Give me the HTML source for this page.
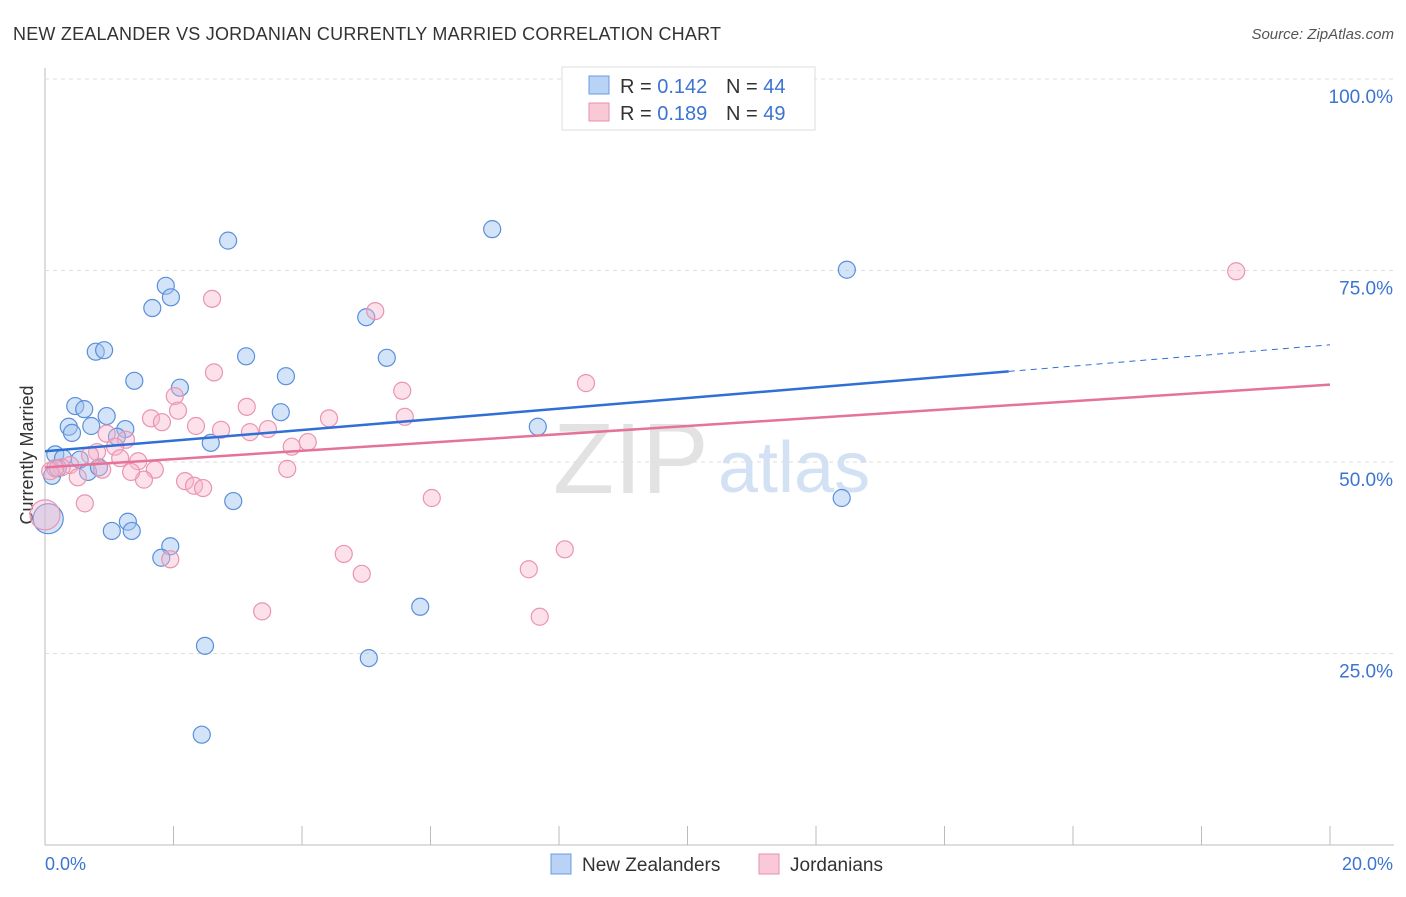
<!DOCTYPE html>
<html><head><meta charset="utf-8"><style>
body{margin:0;background:#fff;font-family:"Liberation Sans",sans-serif}
svg text{font-family:"Liberation Sans",sans-serif}
</style></head><body>
<svg id="c" width="1406" height="892">
<text x="13" y="40" font-size="18" fill="#333" textLength="708">NEW ZEALANDER VS JORDANIAN CURRENTLY MARRIED CORRELATION CHART</text>
<text x="1394" y="39" font-size="15" fill="#555" font-style="italic" text-anchor="end">Source: ZipAtlas.com</text>
<text x="553" y="493" font-size="100" fill="#e2e2e2" font-family="Liberation Serif">ZIP</text>
<text x="718" y="492" font-size="72" fill="#d3e1f4">atlas</text>
<text transform="translate(33,455) rotate(-90)" font-size="18" fill="#333" text-anchor="middle">Currently Married</text>
<g id="grid"></g><g id="ticks"></g><g id="pts"></g><g id="trend"></g>
<g>
<rect x="562" y="67" width="253" height="63" fill="#fff" stroke="#ddd"/>
<rect x="589" y="76" width="20" height="18" fill="#b8d3f5" stroke="#6a9be0"/>
<rect x="589" y="103" width="20" height="18" fill="#f9c9d8" stroke="#e890ae"/>
<text x="620" y="93" font-size="20" fill="#333">R = <tspan fill="#3b74d1">0.142</tspan></text>
<text x="726" y="93" font-size="20" fill="#333">N = <tspan fill="#3b74d1">44</tspan></text>
<text x="620" y="120" font-size="20" fill="#333">R = <tspan fill="#3b74d1">0.189</tspan></text>
<text x="726" y="120" font-size="20" fill="#333">N = <tspan fill="#3b74d1">49</tspan></text>
</g>
<g>
<rect x="551" y="854" width="20" height="20" fill="#b8d3f5" stroke="#6a9be0"/>
<text x="582" y="871" font-size="19" fill="#333">New Zealanders</text>
<rect x="759" y="854" width="20" height="20" fill="#f9c9d8" stroke="#e890ae"/>
<text x="790" y="871" font-size="19" fill="#333">Jordanians</text>
</g>
<text x="45" y="870" font-size="18" fill="#3b74d1">0.0%</text>
<text x="1393" y="870" font-size="18" fill="#3b74d1" text-anchor="end">20.0%</text>
</svg>
<script>
const yTicks=[100,75,50,25];
const yTickLabels=["100.0%","75.0%","50.0%","25.0%"];
const blueX=[2.85,6.96,12.48,1.88,1.96,1.67,5.00,0.79,0.92,3.13,5.32,1.39,3.75,2.10,0.47,0.61,0.96,3.67,0.37,0.72,0.42,1.25,1.12,2.58,7.67,0.16,0.28,0.54,0.67,0.84,0.11,2.93,12.40,1.29,1.04,1.35,1.95,1.81,5.84,2.49,5.04,2.44,0.05,0.20];
const blueY=[78.9,80.4,75.1,73.0,71.5,70.1,68.9,64.4,64.6,63.8,63.6,60.6,61.2,59.7,57.3,56.9,56.0,56.5,54.6,54.7,53.8,54.3,53.3,52.5,54.6,51.0,50.5,50.3,48.7,49.3,48.2,44.9,45.3,42.2,41.0,41.0,39.0,37.5,31.1,26.0,24.4,14.4,42.6,49.2];
const pinkX=[18.54,2.60,5.14,2.63,8.42,5.56,2.02,2.07,3.14,1.65,1.82,4.42,5.60,2.35,2.74,3.19,3.47,0.96,1.26,1.09,4.09,3.84,0.81,1.45,1.17,1.71,1.54,1.34,3.77,2.18,2.32,2.46,0.39,0.26,0.51,0.08,0.62,6.02,4.65,4.93,8.09,7.53,7.70,3.38,1.95,0.0,0.70,0.89,0.16];
const pinkY=[74.9,71.3,69.7,61.7,60.3,59.3,58.6,56.7,57.2,55.7,55.2,55.7,55.9,54.7,54.2,53.9,54.3,53.7,52.9,52.0,52.6,52.0,51.3,50.1,50.5,49.0,47.7,48.7,49.1,47.5,46.9,46.6,49.6,49.3,48.0,48.8,44.6,45.3,38.0,35.4,38.6,36.0,29.8,30.5,37.3,43.1,50.9,49.0,49.2];
const blueTrend=[51.4,65.3];
const pinkTrend=[49.3,60.1];
const X=v=>45+v*64.25, Y=v=>845-v*7.66;
const NS="http://www.w3.org/2000/svg";
function mk(p,t,a){const e=document.createElementNS(NS,t);for(const k in a)e.setAttribute(k,a[k]);p.appendChild(e);return e;}
const grid=document.getElementById('grid');
mk(grid,'line',{x1:45,y1:68,x2:45,y2:845,stroke:'#bbb'});
mk(grid,'line',{x1:45,y1:845,x2:1394,y2:845,stroke:'#bbb'});
yTicks.forEach((t,i)=>{
 const l=mk(grid,'line',{x1:45,y1:Y(t),x2:1394,y2:Y(t),stroke:'#ddd','stroke-dasharray':'4,4'});
 
 
 const tx=mk(grid,'text',{x:1393,y:Y(t)+24,'font-size':19,fill:'#3b74d1','text-anchor':'end'});
 tx.textContent=yTickLabels[i];
 
 
});
const tk=document.getElementById('ticks');
for(let i=0;i<=10;i++){const l=mk(tk,'line',{x1:X(i*2),y1:826,x2:X(i*2),y2:845,stroke:'#bbb'});
 
 }
const pts=document.getElementById('pts');
function draw(xs,ys,fill,stroke,name){xs.forEach((x,i)=>{
 const big=x<0.06&&ys[i]>40&&ys[i]<45;
 const c=mk(pts,'circle',{cx:X(x),cy:Y(ys[i]),r:big?15:8.5,fill:fill,stroke:stroke,'stroke-width':1.2});
 
 });}
draw(blueX,blueY,'rgba(160,196,240,0.45)','#5a8fdc','point-new-zealander');
draw(pinkX,pinkY,'rgba(247,180,202,0.4)','#ea94b2','point-jordanian');
const tr=document.getElementById('trend');
const bx=15;const byEnd=blueTrend[0]+(blueTrend[1]-blueTrend[0])*bx/20;
let l=mk(tr,'line',{x1:X(0),y1:Y(blueTrend[0]),x2:X(bx),y2:Y(byEnd),stroke:'#2f6fd6','stroke-width':2.5});


l=mk(tr,'line',{x1:X(bx),y1:Y(byEnd),x2:X(20),y2:Y(blueTrend[1]),stroke:'#2f6fd6','stroke-width':1,'stroke-dasharray':'6,5'});


l=mk(tr,'line',{x1:X(0),y1:Y(pinkTrend[0]),x2:X(20),y2:Y(pinkTrend[1]),stroke:'#e5729a','stroke-width':2.5});


</script>
</body></html>
